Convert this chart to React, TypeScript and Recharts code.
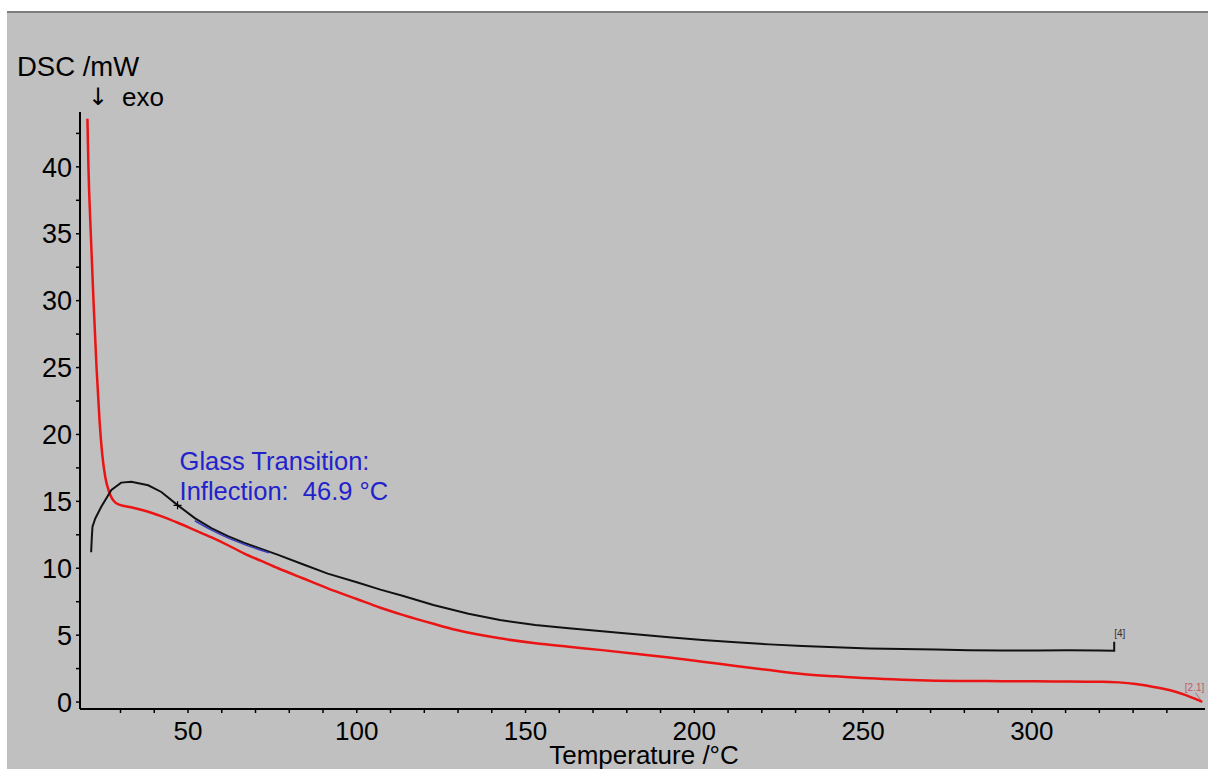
import { LineChart, Line, XAxis, YAxis, ReferenceDot } from "recharts";

// DSC trace values (temperature °C / DSC mW)
const redTemp = [
  20.2, 20.5, 21.2, 22.0, 22.9, 23.8, 24.6, 25.5, 26.5, 27.5, 28.5, 29.6, 31.2, 34.0, 37.2, 42.0, 47.0,
  52.0, 57.0, 62.0, 66.7, 71.7, 76.7, 84.0, 91.4, 100.0, 107.0, 113.8, 122.7, 129.6, 142.4, 152.9,
  162.8, 172.7, 182.6, 192.5, 202.4, 212.3, 222.2, 232.0, 241.9, 251.8, 261.7, 271.5, 281.4, 291.3,
  301.2, 311.0, 320.9, 325.8, 330.8, 335.7, 340.7, 345.6, 350.5,
];
const redDsc = [
  43.6, 40.0, 35.0, 30.0, 25.0, 21.0, 18.5, 16.8, 15.8, 15.2, 14.9, 14.75, 14.65, 14.5, 14.3, 13.9, 13.4,
  12.85, 12.3, 11.7, 11.1, 10.55, 10.0, 9.25, 8.5, 7.7, 7.05, 6.5, 5.85, 5.38, 4.76, 4.39,
  4.13, 3.88, 3.61, 3.33, 3.02, 2.7, 2.39, 2.1, 1.92, 1.77, 1.67, 1.6, 1.57, 1.56,
  1.55, 1.53, 1.52, 1.47, 1.35, 1.15, 0.9, 0.52, 0.02,
];

const blackTemp = [
  21.3, 21.5, 21.7, 22.5, 24.3, 27.3, 30.2, 33.2, 38.2, 42.1, 47.0, 52.0, 56.9, 61.8, 66.7, 71.7, 76.7,
  84.0, 91.4, 100.0, 107.0, 113.8, 122.7, 133.1, 142.4, 152.9, 162.8, 172.7, 182.6, 192.5, 202.4,
  212.3, 222.2, 232.0, 241.9, 251.8, 261.7, 271.5, 281.4, 291.3, 301.2, 311.0, 319.9, 324.4, 324.4,
];
const blackDsc = [
  11.2, 12.3, 13.1, 13.7, 14.6, 15.85, 16.4, 16.47, 16.2, 15.7, 14.7, 13.75, 13.0, 12.4, 11.9, 11.45, 11.0,
  10.3, 9.6, 8.95, 8.4, 7.93, 7.25, 6.6, 6.13, 5.76, 5.51, 5.3, 5.06, 4.84, 4.64,
  4.46, 4.31, 4.19, 4.09, 4.0, 3.96, 3.93, 3.88, 3.85, 3.86, 3.88, 3.86, 3.84, 4.5,
];

// fitted segment used for the glass transition evaluation
const fitTemp = [52, 57, 62, 67, 74];
const fitDsc = [13.55, 12.85, 12.25, 11.75, 11.15];

const inflection = { t: 46.9, v: 14.7 };

const xTicks = [30, 40, 50, 60, 70, 80, 90, 100, 110, 120, 130, 140, 150, 160, 170, 180, 190, 200, 210, 220, 230, 240, 250, 260, 270, 280, 290, 300, 310, 320, 330, 340];
const yTicks = [0, 2.5, 5, 7.5, 10, 12.5, 15, 17.5, 20, 22.5, 25, 27.5, 30, 32.5, 35, 37.5, 40, 42.5];

const FONT = '"Liberation Sans", Arial, sans-serif';

const toPoints = (xs: number[], ys: number[]) => xs.map((t, i) => ({ t, v: ys[i] }));

const redData = toPoints(redTemp, redDsc);
const blackData = toPoints(blackTemp, blackDsc);
const fitData = toPoints(fitTemp, fitDsc);

function XTick({ x, y, payload }: any) {
  if (payload.value % 50 !== 0) return null;
  return (
    <text x={x} y={y} dy="0.71em" textAnchor="middle" fontSize={26} fontFamily={FONT} fill="#000">
      {payload.value}
    </text>
  );
}

function YTick({ x, y, payload }: any) {
  if (payload.value % 5 !== 0) return null;
  return (
    <text x={x} y={y} dy="0.36em" textAnchor="end" fontSize={27} fontFamily={FONT} fill="#000">
      {payload.value}
    </text>
  );
}

function InflectionMark({ cx, cy }: any) {
  return (
    <g>
      <path d={`M${cx - 4},${cy}H${cx + 4}M${cx},${cy - 4}V${cy + 4}`} stroke="#000" strokeWidth={1.2} />
      <text x={cx + 2} y={cy - 35} fontSize={25.5} fontFamily={FONT} fill="#2222cc">
        Glass Transition:
      </text>
      <text x={cx + 2} y={cy - 5} fontSize={25.5} fontFamily={FONT} fill="#2222cc" style={{ whiteSpace: "pre" }}>
        {"Inflection:  46.9 °C"}
      </text>
    </g>
  );
}

function SegmentLabel({ cx, cy }: any) {
  return (
    <text x={cx} y={cy - 5} fontSize={10} fontFamily={FONT} fill="#333">
      [4]
    </text>
  );
}

function EndLabel({ cx, cy }: any) {
  return (
    <g>
      <path d={`M${cx - 7},${cy - 9}L${cx},${cy}`} stroke="#b85060" strokeWidth={0.8} />
      <text x={cx + 2} y={cy - 11} textAnchor="end" fontSize={10} fontFamily={FONT} fill="#c05868">
        [2.1]
      </text>
    </g>
  );
}

export default function App() {
  return (
    <div style={{ position: "fixed", left: 0, top: 0, width: 1208, height: 769, background: "#fff", overflow: "hidden" }}>
      <div style={{ position: "absolute", left: 7, top: 11, width: 1201, height: 2, background: "#7c7c7c" }} />
      <div style={{ position: "absolute", left: 7, top: 13, width: 1201, height: 756, background: "#c0c0c0" }} />
      <svg width={1208} height={769} style={{ position: "absolute", left: 0, top: 0 }}>
        <text x={17} y={76} fontSize={27.5} fontFamily={FONT} fill="#000">DSC /mW</text>
        <text x={98} y={105} textAnchor="middle" fontSize={24} fontFamily='"DejaVu Sans", sans-serif' fill="#000">↓</text>
        <text x={122} y={106} fontSize={26} fontFamily={FONT} fill="#000">exo</text>
        <text x={644} y={763.5} textAnchor="middle" fontSize={26} fontFamily={FONT} fill="#000">Temperature /°C</text>
      </svg>
      <div style={{ position: "absolute", left: 0, top: 0 }}>
        <LineChart width={1208} height={769} margin={{ top: 112, right: 3, bottom: 0, left: 0 }}>
          <XAxis
            type="number"
            dataKey="t"
            domain={[18, 351.3]}
            ticks={xTicks}
            allowDataOverflow
            height={60}
            tickSize={4}
            tickMargin={9}
            stroke="#000"
            axisLine={{ stroke: "#000", strokeWidth: 2 }}
            tickLine={{ stroke: "#000", strokeWidth: 1.5 }}
            tick={<XTick />}
          />
          <YAxis
            type="number"
            dataKey="v"
            domain={[-0.52, 44.1]}
            ticks={yTicks}
            allowDataOverflow
            width={80}
            tickSize={4}
            tickMargin={4}
            stroke="#000"
            axisLine={{ stroke: "#000", strokeWidth: 2 }}
            tickLine={{ stroke: "#000", strokeWidth: 1.5 }}
            tick={<YTick />}
          />
          <Line
            data={redData}
            dataKey="v"
            type="monotone"
            stroke="#ea1414"
            strokeWidth={2.5}
            dot={false}
            isAnimationActive={false}
          />
          <Line
            data={blackData}
            dataKey="v"
            type="linear"
            stroke="#111"
            strokeWidth={2}
            dot={false}
            isAnimationActive={false}
          />
          <Line
            data={fitData}
            dataKey="v"
            type="monotone"
            stroke="#3a3ac0"
            strokeWidth={1.5}
            dot={false}
            isAnimationActive={false}
          />
          <ReferenceDot x={inflection.t} y={inflection.v} shape={<InflectionMark />} />
          <ReferenceDot x={324.4} y={4.5} shape={<SegmentLabel />} />
          <ReferenceDot x={350.5} y={0.02} shape={<EndLabel />} />
        </LineChart>
      </div>
    </div>
  );
}
